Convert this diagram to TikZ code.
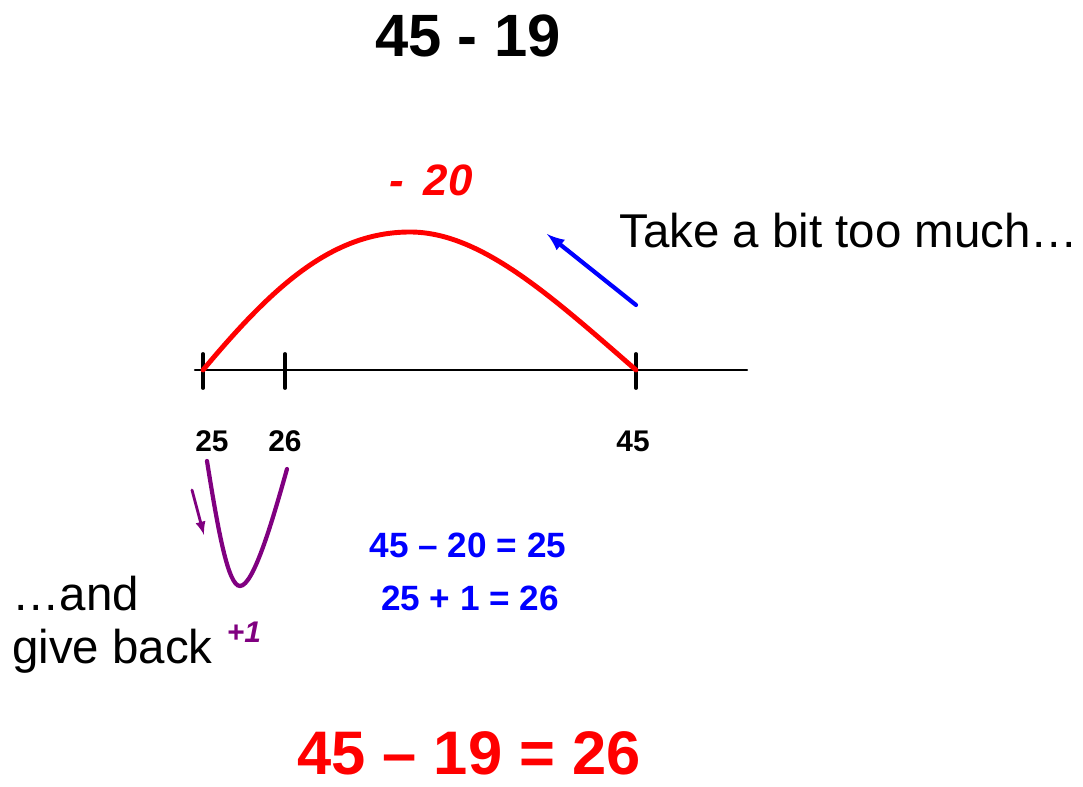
\documentclass[tikz,border=0pt]{standalone}
\usepackage{fontspec}
\setmainfont{Liberation Sans}
\usepackage{xcolor}
\usetikzlibrary{arrows, positioning, calc}

\definecolor{arcred}{RGB}{255,0,0}
\definecolor{hintblue}{RGB}{0,0,255}
\definecolor{backpurple}{RGB}{128,0,128}

\begin{document}
\begin{tikzpicture}[x=0.02cm, y=-0.02cm, >=latex, line cap=round]
  \tikzstyle{heading} = [font=\bfseries\fontsize{34}{38}\selectfont, inner sep=0pt]
  \tikzstyle{numlabel} = [font=\bfseries\fontsize{17}{20}\selectfont, inner sep=0pt]
  \tikzstyle{remark} = [font=\fontsize{27}{32}\selectfont, inner sep=0pt, anchor=west]
  \tikzstyle{sum} = [font=\bfseries\fontsize{20}{24}\selectfont, text=hintblue, inner sep=0pt]
  \tikzstyle{tick} = [line width=2.2pt]

  \useasboundingbox (0,0) rectangle (1083,787);

  % title
  \node[heading] (Title) at (468,36) {45 - 19};

  % number line
  \coordinate (LineL) at (195,370);
  \coordinate (LineR) at (747,370);
  \draw[line width=1.2pt] (LineL) -- (LineR);
  \coordinate (T25) at (203,370);
  \coordinate (T26) at (285,370);
  \coordinate (T45) at (636,370);
  \foreach \t in {T25, T26, T45}
    \draw[tick] ($(\t)+(0,-16)$) -- ($(\t)+(0,18)$);

  \node[numlabel] (L25) at (212,441) {25};
  \node[numlabel] (L26) at (285,441) {26};
  \node[numlabel] (L45) at (633,441) {45};

  % jump back by 20
  \draw[arcred, line width=2.8pt]
    (T25) .. controls (270,290) and (330,232) .. (410,232)
          .. controls (480,232) and (550,295) .. (T45);
  \node[font=\bfseries\itshape\fontsize{25}{28}\selectfont, text=arcred, inner sep=0pt] (Minus) at (431,180) {-\, 20};

  \coordinate (ArrowS) at (636,305);
  \coordinate (ArrowE) at (547,234);
  \draw[->, hintblue, line width=2.4pt] (ArrowS) -- (ArrowE);
  \node[remark] (Take) at (619,231) {Take a bit too much…};

  % give back one
  \coordinate (BackS) at (207,461);
  \coordinate (BackE) at (287,469);
  \draw[backpurple, line width=2.4pt]
    (BackS) .. controls (218,530) and (228,586) .. (240,586)
            .. controls (254,586) and (274,515) .. (BackE);
  \coordinate (SmallS) at (192,490);
  \coordinate (SmallE) at (204,535);
  \draw[->, backpurple, line width=1.6pt] (SmallS) -- (SmallE);
  \node[font=\bfseries\itshape\fontsize{17}{20}\selectfont, text=backpurple, inner sep=0pt] (Plus) at (244,632) {+1};

  \node[remark] (And) at (12,594) {…and};
  \node[remark] (Give) at (12,651) {give back};

  % working
  \node[sum] (EqA) at (468,545) {45 – 20 = 25};
  \node[sum] (EqB) at (470,598) {25 + 1 = 26};

  \node[heading, text=arcred, font=\bfseries\fontsize{35}{40}\selectfont] (Answer) at (469,753) {45 – 19 = 26};
\end{tikzpicture}
\end{document}
